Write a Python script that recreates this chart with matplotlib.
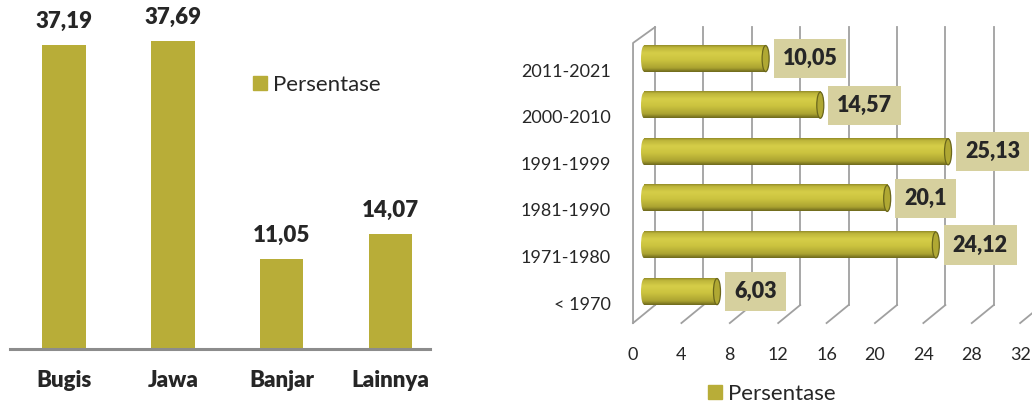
import numpy as np
import matplotlib
import matplotlib.pyplot as plt
from matplotlib.patches import Patch, Ellipse
from matplotlib.colors import LinearSegmentedColormap

matplotlib.use("Agg")

# ── data ────────────────────────────────────────────────────────────────────
suku = ["Bugis", "Jawa", "Banjar", "Lainnya"]
suku_pct = [37.19, 37.69, 11.05, 14.07]

periode = ["< 1970", "1971-1980", "1981-1990", "1991-1999", "2000-2010", "2011-2021"]
periode_pct = [6.03, 24.12, 20.1, 25.13, 14.57, 10.05]

x_ticks = [0, 4, 8, 12, 16, 20, 24, 28, 32]
series_name = "Persentase"

# ── style ───────────────────────────────────────────────────────────────────
OLIVE = "#b8ad38"
TEXT = "#262626"
GRID = "#a0a0a0"
BOX = "#d6d09e"
FONT = "Lato"
HEAVY = "heavy"

plt.rcParams["font.family"] = [FONT, "DejaVu Sans"]

def fmt(v):
    return f"{v:g}".replace(".", ",")

fig = plt.figure(figsize=(10.32, 4.07), dpi=100)
fig.patch.set_facecolor("white")

# ── left: vertical bars ─────────────────────────────────────────────────────
ax1 = fig.add_axes([10 / 1032, 58 / 407, 420 / 1032, 349 / 407])
xs = np.arange(len(suku))
ax1.bar(xs, suku_pct, width=0.40, color=OLIVE, zorder=2)
for x, v in zip(xs, suku_pct):
    ax1.annotate(fmt(v), xy=(x, v), xytext=(0, 17), textcoords="offset points",
                 ha="center", va="center", fontsize=16, fontweight=HEAVY,
                 color=TEXT)
ax1.set_xlim(-0.496, 3.364)
ax1.set_ylim(0, 42.72)
ax1.set_xticks(xs)
ax1.set_xticklabels(suku, fontsize=16, fontweight=HEAVY, color=TEXT)
ax1.tick_params(axis="x", length=0, pad=15)
ax1.set_yticks([])
for s in ["top", "right", "left"]:
    ax1.spines[s].set_visible(False)
ax1.spines["bottom"].set_color("#8c8c8c")
ax1.spines["bottom"].set_linewidth(2.2)
ax1.legend(handles=[Patch(color=OLIVE, label=series_name)],
           loc="center left", bbox_to_anchor=(0.5786, 0.7564),
           frameon=False, fontsize=16, handlelength=0.63, handleheight=0.63,
           handletextpad=0.27, borderpad=0, borderaxespad=0,
           labelcolor=TEXT)

# ── right: 3D-style cylinder bars ───────────────────────────────────────────
ax2 = fig.add_axes([615 / 1032, 77 / 407, 417 / 1032, 310 / 407])
DX = 0.91          # half depth along x (data units)
FLOOR_F = -0.43    # front floor edge
FLOOR_B = -0.043   # back floor edge
TOP_B = 5.92       # top of back wall
TOP_F = 5.58       # top of side wall front edge

# side wall, back wall grid and floor
ax2.plot([-DX, -DX, DX], [FLOOR_F, TOP_F, TOP_B], color=GRID, lw=1.3, zorder=1)
for t in x_ticks:
    ax2.plot([t + DX, t + DX], [FLOOR_B, TOP_B], color=GRID, lw=1.3, zorder=1)
    ax2.plot([t - DX, t + DX], [FLOOR_F, FLOOR_B], color=GRID, lw=1.3, zorder=1)

cyl = LinearSegmentedColormap.from_list(
    "cyl",
    [(0.0, "#8e8826"), (0.08, "#bdb53a"), (0.3, "#d6ce48"),
     (0.55, "#cbc33f"), (0.85, "#aba331"), (1.0, "#6a661c")])
grad = np.linspace(0, 1, 256).reshape(-1, 1)

BAR_H = 0.56
BAR_DY = 0.245
CAP_W = 0.58
for i, v in enumerate(periode_pct):
    yc = i + BAR_DY
    y0, y1 = yc - BAR_H / 2, yc + BAR_H / 2
    ax2.imshow(grad, cmap=cyl, extent=(0, v, y0, y1), origin="upper",
               aspect="auto", interpolation="bicubic", zorder=3)
    # rounded left end
    left = Ellipse((0, yc), 0.5, BAR_H, transform=ax2.transData)
    im = ax2.imshow(grad, cmap=cyl, extent=(-0.25, 0.25, y0, y1), origin="upper",
                    aspect="auto", interpolation="bicubic", zorder=3)
    im.set_clip_path(left)
    # end cap
    ax2.add_patch(Ellipse((v, yc), CAP_W, BAR_H, facecolor="#b0a833",
                          edgecolor="#6a661c", lw=0.9, zorder=4))
    ax2.annotate(fmt(v), xy=(v, yc), xytext=(12.2, 0), textcoords="offset points",
                 ha="left", va="center", fontsize=15.5, fontweight=HEAVY,
                 color=TEXT, zorder=5,
                 bbox=dict(boxstyle="square,pad=0.42", fc=BOX, ec="none"))

ax2.set_xlim(-2.4, 32.07)
ax2.set_ylim(-0.579, 6.073)
ax2.set_yticks(range(len(periode)))
ax2.set_yticklabels(periode, fontsize=13, color=TEXT)
ax2.set_xticks([t - DX for t in x_ticks])
ax2.set_xticklabels([str(t) for t in x_ticks], fontsize=13, color=TEXT)
ax2.tick_params(axis="y", length=0, pad=3)
ax2.tick_params(axis="x", length=0, pad=12)
for s in ax2.spines.values():
    s.set_visible(False)
ax2.legend(handles=[Patch(color=OLIVE, label=series_name)],
           loc="center left", bbox_to_anchor=((708 - 615) / 417, (330 - 394) / 310),
           frameon=False, fontsize=16, handlelength=0.63, handleheight=0.63,
           handletextpad=0.27, borderpad=0, borderaxespad=0,
           labelcolor=TEXT)

fig.savefig("out.png", dpi=100)
plt.close(fig)
